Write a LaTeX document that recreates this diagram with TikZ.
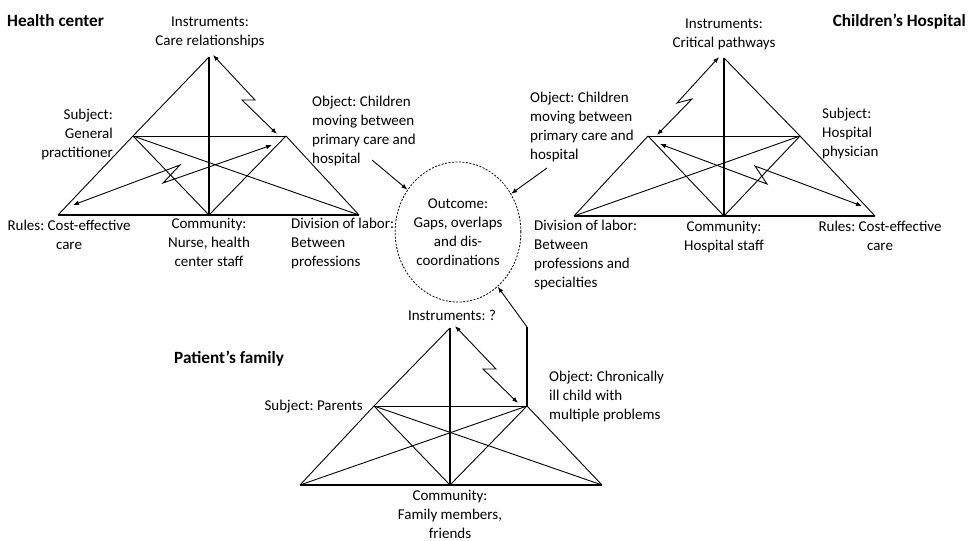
\documentclass[tikz,border=0pt]{standalone}
\usepackage{fontspec}
\setmainfont{Carlito}
\usetikzlibrary{shapes.geometric,arrows.meta}
\frenchspacing
\begin{document}
\begin{tikzpicture}[x=1pt,y=-1pt,
  thinline/.style={line width=0.9pt},
  heavy/.style={line width=2.4pt},
  lbl/.style={font=\fontsize{15}{18.8}\selectfont, inner sep=0pt, execute at begin node=\strut},
  ttl/.style={lbl, font=\fontsize{17.2}{18.8}\selectfont\bfseries},
  arr/.style={-{Latex[length=6pt,width=4.5pt]}, line width=0.9pt},
  darr/.style={{Latex[length=6pt,width=4.5pt]}-{Latex[length=6pt,width=4.5pt]}, line width=0.9pt},
  outc/.style={ellipse, draw, line width=0.8pt, dash pattern=on 2pt off 1.5pt, minimum width=100pt, minimum height=140pt, inner sep=0pt, align=center, font=\fontsize{15}{18.8}\selectfont}
]
\path[fill=white] (0,0) rectangle (970,541);
\useasboundingbox (0,0) rectangle (970,541);

% ---------- Left triangle: Health center ----------
\coordinate (A1) at (209,57);
\coordinate (L1) at (58,215);
\coordinate (R1) at (359,215);
\coordinate (M1) at (209,215);
\coordinate (S1) at (133,136);
\coordinate (O1) at (286,136);
\draw[thinline] (A1) -- (S1) -- (L1);
\draw[thinline] (O1) -- (R1);
\draw[thinline] (S1) -- (O1);
\draw[thinline] (S1) -- (M1) -- (O1);
\draw[thinline] (S1) -- (R1);
\draw[heavy] (A1) -- (M1);
\draw[heavy] (L1) -- (R1);
\coordinate (i1a) at (213,55);
\coordinate (i1b) at (255,100);
\coordinate (i1c) at (242,100);
\coordinate (i1d) at (277,134);
\draw[darr] (i1a) -- (i1b) -- (i1c) -- (i1d);
\coordinate (r1a) at (73,205);
\coordinate (r1b) at (180,165);
\coordinate (r1c) at (163,183);
\coordinate (r1d) at (272,145);
\draw[darr] (r1a) -- (r1b) -- (r1c) -- (r1d);

\node[ttl, anchor=north west] (hc) at (7,13) {Health center};
\node[lbl, anchor=north, align=center] (ins1) at (210,17) {Instruments:\\Care relationships};
\node[lbl, anchor=north east, align=right] (sub1) at (113,109) {Subject:\\General\\practitioner};
\node[lbl, anchor=north west, align=left] (obj1) at (312,96) {Object: Children\\moving between\\primary care and\\hospital};
\node[lbl, anchor=north, align=center] (rul1) at (69,220) {Rules: Cost-effective\\care};
\node[lbl, anchor=north, align=center] (com1) at (209,218) {Community:\\Nurse, health\\center staff};
\node[lbl, anchor=north west, align=left] (div1) at (291,218) {Division of labor:\\Between\\professions};

% ---------- Right triangle: Children's Hospital ----------
\coordinate (A2) at (724,58);
\coordinate (L2) at (574,216);
\coordinate (R2) at (875,216);
\coordinate (M2) at (724,216);
\coordinate (O2) at (648,136);
\coordinate (S2) at (800,136);
\draw[thinline] (A2) -- (S2) -- (R2);
\draw[thinline] (L2) -- (O2);
\draw[thinline] (O2) -- (S2);
\draw[thinline] (O2) -- (M2) -- (S2);
\draw[thinline] (S2) -- (L2);
\draw[heavy] (A2) -- (M2);
\draw[heavy] (L2) -- (R2);
\coordinate (i2a) at (719,57);
\coordinate (i2b) at (677,103);
\coordinate (i2c) at (692,99);
\coordinate (i2d) at (657,135);
\draw[darr] (i2a) -- (i2b) -- (i2c) -- (i2d);
\coordinate (r2a) at (660,144);
\coordinate (r2b) at (767,184);
\coordinate (r2c) at (755,166);
\coordinate (r2d) at (862,206);
\draw[darr] (r2a) -- (r2b) -- (r2c) -- (r2d);

\node[ttl, anchor=north east] (ch) at (966,13) {Children’s Hospital};
\node[lbl, anchor=north, align=center] (ins2) at (724,19) {Instruments:\\Critical pathways};
\node[lbl, anchor=north west, align=left] (obj2) at (530,92) {Object: Children\\moving between\\primary care and\\hospital};
\node[lbl, anchor=north west, align=left] (sub2) at (822,108) {Subject:\\Hospital\\physician};
\node[lbl, anchor=north west, align=left] (div2) at (534,220) {Division of labor:\\Between\\professions and\\specialties};
\node[lbl, anchor=north, align=center] (com2) at (724,221) {Community:\\Hospital staff};
\node[lbl, anchor=north, align=center] (rul2) at (880,221) {Rules: Cost-effective\\care};

% ---------- Bottom triangle: Patient's family ----------
\coordinate (A3) at (450,328);
\coordinate (L3) at (300,485);
\coordinate (R3) at (602,485);
\coordinate (M3) at (450,485);
\coordinate (S3) at (374,406);
\coordinate (O3) at (527,406);
\coordinate (K3) at (527,327);
\draw[thinline] (A3) -- (S3) -- (L3);
\draw[thinline] (O3) -- (R3);
\draw[thinline] (S3) -- (O3);
\draw[thinline] (S3) -- (M3) -- (O3);
\draw[thinline] (S3) -- (R3);
\draw[thinline] (O3) -- (L3);
\draw[heavy] (A3) -- (M3);
\draw[heavy] (L3) -- (R3);
\draw[heavy] (O3) -- (K3);
\coordinate (i3a) at (455,326);
\coordinate (i3b) at (496,369);
\coordinate (i3c) at (483,369);
\coordinate (i3d) at (518,403);
\draw[darr] (i3a) -- (i3b) -- (i3c) -- (i3d);

\node[lbl, anchor=north, align=center] (ins3) at (452,307) {Instruments: ?};
\node[ttl, anchor=north west] (pf) at (174,350) {Patient’s family};
\node[lbl, anchor=north east] (sub3) at (363,397) {Subject: Parents};
\node[lbl, anchor=north west, align=left] (obj3) at (549,371) {Object: Chronically\\ill child with\\multiple problems};
\node[lbl, anchor=north, align=center] (com3) at (450,490) {Community:\\Family members,\\friends};

% ---------- Outcome ----------
\node[outc] (out) at (458,232) {Outcome:\\Gaps, overlaps\\and dis-\\coordinations};
\coordinate (f1) at (372,160);
\coordinate (f2) at (547,168);
\draw[arr] (f1) -- (out);
\draw[arr] (f2) -- (out);
\draw[arr] (K3) -- (out);
\end{tikzpicture}
\end{document}
